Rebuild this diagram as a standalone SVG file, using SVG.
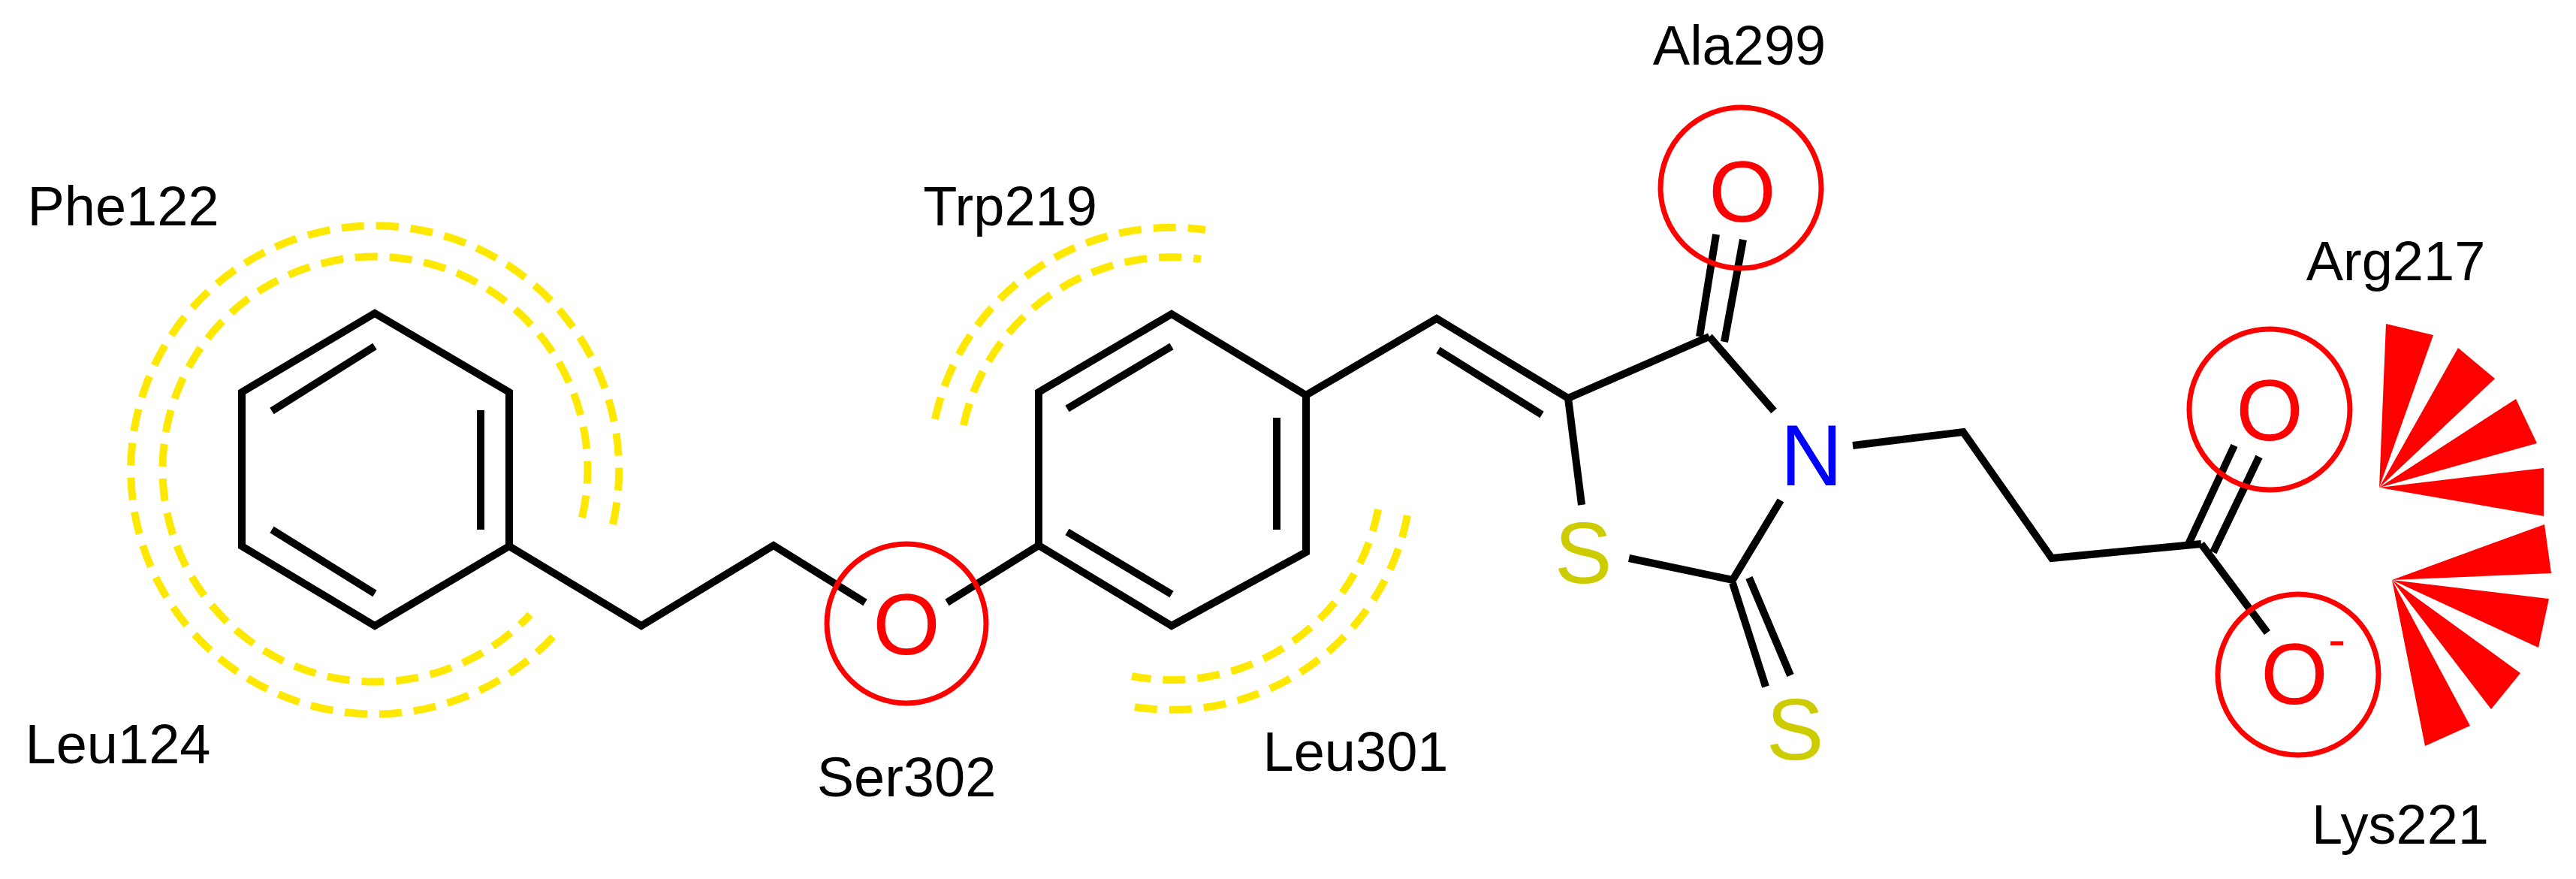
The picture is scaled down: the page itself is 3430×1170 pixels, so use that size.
<svg xmlns="http://www.w3.org/2000/svg" width="3430" height="1170" viewBox="0 0 3430 1170">
<style>
.b{stroke:#000;stroke-width:10;fill:none;stroke-linecap:butt;stroke-linejoin:miter}
.hy{stroke:#FFE800;stroke-width:10;fill:none;stroke-dasharray:30 16}
.hb{stroke:#FF0000;stroke-width:7;fill:none}
.w{fill:#FF0000}
.lbl{font-family:"Liberation Sans",Arial,sans-serif;font-size:74px;fill:#000;text-anchor:middle}
.at{font-family:"Liberation Sans",Arial,sans-serif;font-size:115px;text-anchor:middle}
</style>
<rect width="3430" height="1170" fill="#fff"/>
<g id="connectors">
<path class="b" d="M499,417 L322,522 L322,727 L499,833 L678,727 L678,522 Z"/>
<path class="b" d="M362,547 L499,461 M640,546 L640,705 M362,705 L499,790"/>
<path class="b" d="M678,727 L854,833 L1030,726 L1152,802 M1261,802 L1383,726"/>
<path class="b" d="M1560,418 L1383,522 L1383,726 L1560,833 L1739,735 L1739,526 Z"/>
<path class="b" d="M1421,544 L1560,461 M1700,556 L1700,705 M1421,708 L1560,791"/>
<path class="b" d="M1739,526 L1913,424 L2088,530 M1915,466 L2053,552"/>
<path class="b" d="M2088,530 L2276,448 M2276,448 L2362,547 M2467,593 L2614,575 L2732,743 L2931,724"/>
<path class="b" d="M2088,530 L2106,672 M2169,743 L2307,772 L2371,666"/>
<path class="b" d="M2307,776 L2351,914 M2329,769 L2384,899"/>
<path class="b" d="M2263,448 L2285,312 M2296,455 L2321,319"/>
<path class="b" d="M2914,724 L2975,593 M2947,735 L3008,608 M2931,724 L3019,842"/>
</g>
<g id="hydrophobic">
<path class="hy" d="M816,698 A325,325 0 1 0 737,847"/>
<path class="hy" d="M775,689 A283,283 0 1 0 706,818"/>
<path class="hy" d="M1245,558 A322,322 0 0 1 1605,306"/>
<path class="hy" d="M1283,566 A283,283 0 0 1 1599,345"/>
<path class="hy" d="M1874,686 A320,320 0 0 1 1499,939"/>
<path class="hy" d="M1835,678 A280,280 0 0 1 1507,900"/>
</g>
<g id="hbonds">
<circle class="hb" cx="1207" cy="830" r="106"/>
<circle class="hb" cx="2318" cy="250" r="107"/>
<circle class="hb" cx="3022" cy="545" r="107"/>
<circle class="hb" cx="3060" cy="898" r="107"/>
</g>
<g id="ionic">
<polygon class="w" points="3168,649 3177,431 3240,446"/>
<polygon class="w" points="3168,649 3273,463 3322,504"/>
<polygon class="w" points="3168,649 3350,531 3378,590"/>
<polygon class="w" points="3168,649 3387,623 3387,687"/>
<polygon class="w" points="3185,772 3388,698 3397,763"/>
<polygon class="w" points="3185,772 3394,797 3380,862"/>
<polygon class="w" points="3185,772 3356,896 3317,944"/>
<polygon class="w" points="3185,772 3289,966 3229,993"/>
</g>
<g id="atoms">
<text class="at" x="1207" y="871" fill="#FF0000">O</text>
<text class="at" x="2320" y="295" fill="#FF0000">O</text>
<text class="at" x="3022" y="586" fill="#FF0000">O</text>
<text class="at" x="3055" y="937" fill="#FF0000">O</text>
<text x="3100" y="875" fill="#FF0000" font-family="Liberation Sans,Arial,sans-serif" font-size="70">-</text>
<text class="at" x="2412" y="646" fill="#0000FF">N</text>
<text class="at" x="2108" y="776" fill="#CCCC00">S</text>
<text class="at" x="2390" y="1011" fill="#CCCC00">S</text>
</g>
<g id="labels">
<text class="lbl" x="164" y="300">Phe122</text>
<text class="lbl" x="157" y="1016">Leu124</text>
<text class="lbl" x="1345" y="300">Trp219</text>
<text class="lbl" x="1207" y="1060">Ser302</text>
<text class="lbl" x="1805" y="1026">Leu301</text>
<text class="lbl" x="2316" y="86">Ala299</text>
<text class="lbl" x="3190" y="373">Arg217</text>
<text class="lbl" x="3196" y="1123">Lys221</text>
</g>
</svg>
